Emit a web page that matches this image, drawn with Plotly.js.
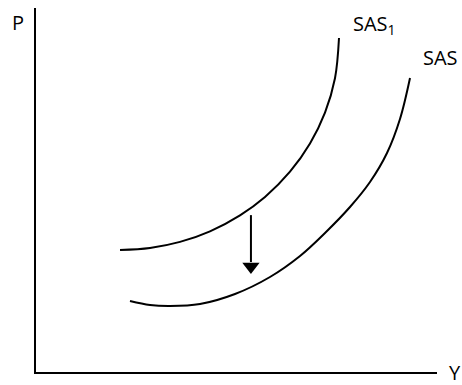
<!DOCTYPE html>
<html>
<head>
<meta charset="utf-8">
<script src="https://cdn.plot.ly/plotly-3.0.1.min.js"></script>
<style>html,body{margin:0;padding:0;background:#fff;}</style>
</head>
<body>
<div id="chart" style="width:462px;height:385px;"></div>
<script>
// Curve SAS1 (shifted, upper)
const sas1X = [20.95, 28.43, 35.91, 43.39, 50.87, 57.11, 63.34, 68.33, 72.07, 74.56, 75.56];
const sas1Y = [33.52, 34.07, 35.74, 38.65, 43.05, 48.10, 55.05, 62.80, 71.26, 80.69, 91.76];
// Curve SAS (lower)
const sasX = [23.44, 28.43, 33.42, 40.90, 49.63, 58.35, 65.84, 72.07, 78.30, 83.29, 87.53, 90.77, 93.27];
const sasY = [19.51, 18.41, 18.13, 18.68, 21.43, 26.10, 31.87, 38.19, 45.33, 52.20, 60.16, 69.51, 80.77];
// Arrow (shaft start -> shaft end, head centre)
const arrowX = [53.6, 53.6];
const arrowY = [43.1, 30.2];
const arrowHead = [53.6, 28.98];
// Labels inside the plot (data coordinates)
const curveLabelText = ["SAS<sub>1</sub>", "SAS"];
const curveLabelX = [78.6, 96.0];
const curveLabelY = [95.6, 86.4];
// Axis labels (paper coordinates)
const axisLabelText = ["P", "Y"];
const axisLabelX = [-0.045, 1.045];
const axisLabelY = [0.959, 0.0];

const font = {family: "Open Sans, sans-serif", size: 20, color: "#000"};

const traces = [
  {x: sas1X, y: sas1Y, mode: "lines", line: {color: "#000", width: 2, shape: "spline", smoothing: 1}, hoverinfo: "skip"},
  {x: sasX, y: sasY, mode: "lines", line: {color: "#000", width: 2, shape: "spline", smoothing: 1}, hoverinfo: "skip"},
  {x: arrowX, y: arrowY, mode: "lines", line: {color: "#000", width: 2}, hoverinfo: "skip"},
  {x: [arrowHead[0]], y: [arrowHead[1]], mode: "markers", marker: {symbol: "triangle-down", size: 15, color: "#000", line: {width: 0}}, hoverinfo: "skip"}
];

const annotations = [];
curveLabelText.forEach((t, i) => annotations.push({
  text: t, x: curveLabelX[i], y: curveLabelY[i], xref: "x", yref: "y",
  showarrow: false, font: font, xanchor: "left", yanchor: "middle"
}));
axisLabelText.forEach((t, i) => annotations.push({
  text: t, x: axisLabelX[i], y: axisLabelY[i], xref: "paper", yref: "paper",
  showarrow: false, font: font, xanchor: "center", yanchor: "middle"
}));

const layout = {
  width: 462, height: 385, autosize: false,
  margin: {l: 36, r: 25, t: 8, b: 13, pad: 0},
  paper_bgcolor: "#fff", plot_bgcolor: "#fff",
  showlegend: false,
  xaxis: {range: [0, 100], showline: true, linecolor: "#000", linewidth: 2, showgrid: false, zeroline: false, showticklabels: false, ticks: "", fixedrange: true},
  yaxis: {range: [0, 100], showline: true, linecolor: "#000", linewidth: 2, showgrid: false, zeroline: false, showticklabels: false, ticks: "", fixedrange: true},
  annotations: annotations
};

Plotly.newPlot("chart", traces, layout, {displayModeBar: false, staticPlot: true});
</script>
</body>
</html>
